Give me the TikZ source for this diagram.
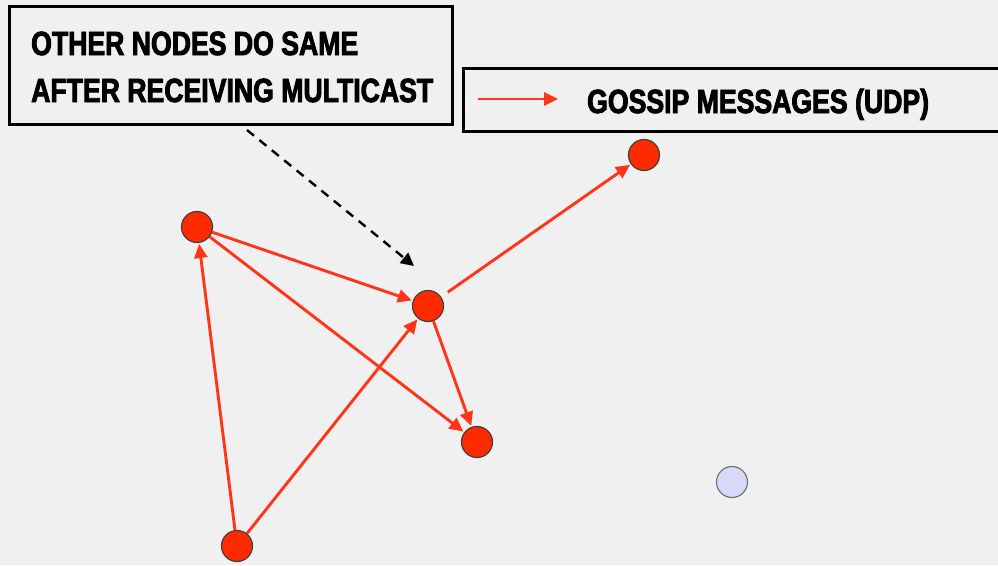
\documentclass[tikz,border=0pt]{standalone}
\usepackage{fontspec}
\newfontfamily\condfont[FakeStretch=0.795,FakeBold=2.6]{Liberation Sans Bold}
\usetikzlibrary{arrows.meta}
\definecolor{bg}{HTML}{F0F0F0}
\definecolor{gred}{HTML}{FF3518}
\definecolor{nred}{HTML}{FF2A00}
\definecolor{lav}{HTML}{D8D8F8}
\tikzset{
  peer/.style={circle,draw=black!75,line width=1.2pt,fill=nred,minimum size=31pt,inner sep=0pt},
  idle/.style={circle,draw=black!55,line width=1.2pt,fill=lav,minimum size=31pt,inner sep=0pt},
  gossip/.style={draw=gred,line width=2.9pt,-{Triangle[length=14pt,width=13pt]},shorten >=1pt},
  frame/.style={draw=black,line width=2.8pt,fill=bg,inner sep=0pt},
  label/.style={font=\condfont\fontsize{33.5}{36}\selectfont,anchor=base west,inner sep=0pt}
}
\begin{document}
\begin{tikzpicture}[x=1pt,y=-1pt]
\fill[bg] (0,0) rectangle (998,565);
\useasboundingbox (0,0) rectangle (998,565);
% boxes
\node[frame,minimum width=443pt,minimum height=118pt,anchor=north west] (note) at (8,5) {};
\node[frame,minimum width=560pt,minimum height=63pt,anchor=north west] (legend) at (462,67) {};
\node[label] (l1) at (31,55) {OTHER NODES DO SAME};
\node[label] (l2) at (31,102) {AFTER RECEIVING MULTICAST};
\node[label] (lg) at (587,113) {GOSSIP MESSAGES (UDP)};
\coordinate (la) at (478,99);
\coordinate (lb) at (558,99);
\draw[gossip,shorten >=0pt] (la) -- (lb);
% nodes
\node[peer] (A) at (197,227) {};
\node[peer] (B) at (428,306) {};
\node[peer] (C) at (644,155) {};
\node[peer] (D) at (477,442) {};
\node[peer] (E) at (237,546) {};
\node[idle] (F) at (732,482) {};
% dashed pointer
\coordinate (ds) at (247,130);
\coordinate (de) at (414,266);
\draw[black,line width=2.4pt,dash pattern=on 9pt off 7pt,-{Triangle[length=13pt,width=13pt]}] (ds) -- (de);
% gossip edges
\draw[gossip] (A) -- (B);
\draw[gossip] (A) -- (D);
\draw[gossip] (E) -- (A);
\draw[gossip] (E) -- (B);
\draw[gossip,shorten <=8pt] (B) -- (C);
\draw[gossip] (B) -- (D);
\end{tikzpicture}
\end{document}
